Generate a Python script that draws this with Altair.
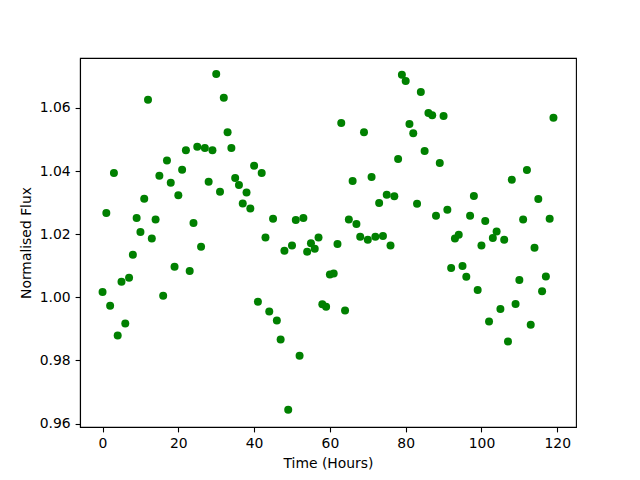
import altair as alt
import pandas as pd

time_hours = list(range(120))
flux = [
    1.0017, 1.0267, 0.9973, 1.0394, 0.9879, 1.0049, 0.9917, 1.0062, 1.0135, 1.0251,
    1.0207, 1.0312, 1.0626, 1.0186, 1.0246, 1.0385, 1.0005, 1.0433, 1.0363, 1.0097,
    1.0323, 1.0404, 1.0466, 1.0083, 1.0235, 1.0477, 1.0160, 1.0473, 1.0366, 1.0466,
    1.0707, 1.0334, 1.0632, 1.0523, 1.0473, 1.0378, 1.0356, 1.0297, 1.0332, 1.0281,
    1.0417, 0.9986, 1.0394, 1.0189, 0.9955, 1.0249, 0.9926, 0.9866, 1.0147, 0.9644,
    1.0164, 1.0245, 0.9815, 1.0251, 1.0144, 1.0171, 1.0154, 1.0189, 0.9978, 0.9970,
    1.0072, 1.0075, 1.0169, 1.0552, 0.9958, 1.0246, 1.0368, 1.0232, 1.0192, 1.0523,
    1.0182, 1.0381, 1.0192, 1.0299, 1.0194, 1.0325, 1.0164, 1.0320, 1.0438, 1.0705,
    1.0685, 1.0549, 1.0520, 1.0296, 1.0650, 1.0463, 1.0584, 1.0577, 1.0258, 1.0425,
    1.0574, 1.0277, 1.0093, 1.0186, 1.0198, 1.0099, 1.0065, 1.0258, 1.0321, 1.0023,
    1.0164, 1.0242, 0.9923, 1.0188, 1.0208, 0.9963, 1.0182, 0.9860, 1.0372, 0.9979,
    1.0055, 1.0246, 1.0403, 0.9913, 1.0157, 1.0311, 1.0019, 1.0066, 1.0249, 1.0569,
]
x_ticks = [0, 20, 40, 60, 80, 100, 120]
y_ticks = [0.96, 0.98, 1.00, 1.02, 1.04, 1.06]

df = pd.DataFrame({"t": time_hours, "f": flux})

FONT = "DejaVu Sans"

axis_style = dict(
    grid=False,
    domainColor="black",
    domainWidth=1.1,
    tickColor="black",
    tickWidth=1.1,
    tickSize=4.9,
    labelPadding=4.9,
    labelFont=FONT,
    labelFontSize=13.9,
    labelColor="black",
    titleFont=FONT,
    titleFontSize=13.9,
    titleFontWeight="normal",
    titleColor="black",
    titlePadding=5.6,
)

chart = (
    alt.Chart(df)
    .mark_circle(size=64, color="#008000", opacity=1)
    .encode(
        x=alt.X(
            "t:Q",
            scale=alt.Scale(domain=[-5.95, 124.95], nice=False, zero=False),
            axis=alt.Axis(title="Time (Hours)", values=x_ticks, format="d", **axis_style),
        ),
        y=alt.Y(
            "f:Q",
            scale=alt.Scale(domain=[0.9589, 1.0758], nice=False, zero=False),
            axis=alt.Axis(title="Normalised Flux", values=y_ticks, format=".2f", **axis_style),
        ),
    )
    .properties(
        width=496,
        height=369,
        background="white",
        autosize=alt.AutoSizeParams(type="none"),
        padding={"left": 72, "top": 50, "right": 56, "bottom": 45},
    )
    .configure_view(stroke="black", strokeWidth=1.1)
)

chart.save("out.html", embed_options={"renderer": "svg", "actions": False})
